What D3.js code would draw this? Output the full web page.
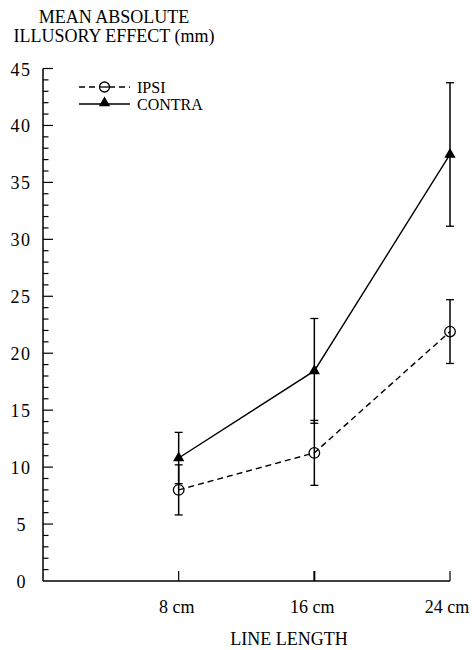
<!DOCTYPE html>
<html>
<head>
<meta charset="utf-8">
<script src="https://cdn.jsdelivr.net/npm/d3@7"></script>
<style>
  body { margin: 0; background: #fff; }
</style>
</head>
<body>
<svg id="chart"></svg>
<script>
const svgWidth = 472, svgHeight = 650;
const serif = "'Liberation Serif', 'Times New Roman', serif";

// data
const lengths = [8, 16, 24];
const lengthLabels = ["8 cm", "16 cm", "24 cm"];
const ipsiMean = [8.0, 11.25, 21.9];
const ipsiErr = [2.2, 2.85, 2.8];
const contraMean = [10.8, 18.45, 37.45];
const contraErr = [2.25, 4.6, 6.3];
const yMajorTicks = [0, 5, 10, 15, 20, 25, 30, 35, 40, 45];

const chart = d3.select("#chart")
    .attr("width", svgWidth)
    .attr("height", svgHeight);

// every text gets the font inline
function label(sel, size) {
  return sel.style("font-family", serif).style("font-size", size + "px").attr("fill", "#000");
}

const xScale = d3.scaleLinear().domain([0, 24]).range([43, 450]);
const yScale = d3.scaleLinear().domain([0, 45]).range([581, 68.5]);

// title
const title = label(chart.append("text").attr("text-anchor", "middle"), 18);
title.append("tspan").attr("x", 114).attr("y", 23).text("MEAN ABSOLUTE");
title.append("tspan").attr("x", 114).attr("y", 42).text("ILLUSORY EFFECT (mm)");

// y axis with minor ticks every 1 unit, drawn inward
const yAxis = chart.append("g");
yAxis.append("line")
    .attr("x1", 43).attr("x2", 43)
    .attr("y1", yScale(0)).attr("y2", yScale(45))
    .attr("stroke", "#000").attr("stroke-width", 1.5);
yAxis.selectAll(".minor")
    .data(d3.range(1, 45).filter(d => d % 5 != 0))
    .enter().append("line")
    .attr("x1", 43).attr("x2", 48.5)
    .attr("y1", d => yScale(d)).attr("y2", d => yScale(d))
    .attr("stroke", "#000").attr("stroke-width", 1.2);
yAxis.selectAll(".major")
    .data(yMajorTicks.slice(1))
    .enter().append("line")
    .attr("x1", 43).attr("x2", 53)
    .attr("y1", d => yScale(d)).attr("y2", d => yScale(d))
    .attr("stroke", "#000").attr("stroke-width", 1.2);
label(yAxis.selectAll("text")
    .data(yMajorTicks)
    .enter().append("text")
    .attr("x", 21).attr("y", d => yScale(d) + 7)
    .attr("text-anchor", "middle")
    .attr("letter-spacing", d => d >= 10 ? 1.5 : 0)
    .text(d => d), 18);

// x axis
const xAxis = chart.append("g");
xAxis.append("line")
    .attr("x1", 43).attr("x2", xScale(24))
    .attr("y1", yScale(0)).attr("y2", yScale(0))
    .attr("stroke", "#000").attr("stroke-width", 1.5);
xAxis.selectAll(".tick")
    .data(lengths)
    .enter().append("line")
    .attr("x1", d => xScale(d)).attr("x2", d => xScale(d))
    .attr("y1", yScale(0)).attr("y2", yScale(0) - 10)
    .attr("stroke", "#000").attr("stroke-width", (d, i) => i == 1 ? 2 : 1.2);
label(xAxis.selectAll("text")
    .data(lengths)
    .enter().append("text")
    .attr("x", (d, i) => xScale(d) - [2, 2, 3][i]).attr("y", 613)
    .attr("text-anchor", "middle")
    .text((d, i) => lengthLabels[i]), 18);
label(chart.append("text")
    .attr("x", 289).attr("y", 645)
    .attr("text-anchor", "middle")
    .text("LINE LENGTH"), 18);

// error bars
function errorBars(means, errs, width) {
  const g = chart.append("g").attr("stroke", "#000");
  lengths.forEach((d, i) => {
    const x = xScale(d), top = yScale(means[i] + errs[i]), bot = yScale(means[i] - errs[i]);
    g.append("line").attr("x1", x).attr("x2", x).attr("y1", top).attr("y2", bot).attr("stroke-width", width);
    g.append("line").attr("x1", x - 4).attr("x2", x + 4).attr("y1", top).attr("y2", top).attr("stroke-width", 1.3);
    g.append("line").attr("x1", x - 4).attr("x2", x + 4).attr("y1", bot).attr("y2", bot).attr("stroke-width", 1.3);
  });
}
errorBars(ipsiMean, ipsiErr, 1.5);
errorBars(contraMean, contraErr, 1.5);

const line = d3.line().x(d => xScale(d[0])).y(d => yScale(d[1]));

// IPSI dashed line with open circles
chart.append("path")
    .datum(lengths.map((d, i) => [d, ipsiMean[i]]))
    .attr("d", line)
    .attr("fill", "none").attr("stroke", "#000")
    .attr("stroke-width", 1.4).attr("stroke-dasharray", "6,4");
chart.selectAll(".ipsi")
    .data(lengths)
    .enter().append("circle")
    .attr("cx", d => xScale(d)).attr("cy", (d, i) => yScale(ipsiMean[i]))
    .attr("r", 5.3)
    .attr("fill", "none").attr("stroke", "#000").attr("stroke-width", 1.3);

// CONTRA solid line with filled triangles
const tri = d3.symbol().type(d3.symbolTriangle).size(55);
chart.append("path")
    .datum(lengths.map((d, i) => [d, contraMean[i]]))
    .attr("d", line)
    .attr("fill", "none").attr("stroke", "#000").attr("stroke-width", 1.4);
chart.selectAll(".contra")
    .data(lengths)
    .enter().append("path")
    .attr("d", tri)
    .attr("transform", (d, i) => "translate(" + xScale(d) + "," + yScale(contraMean[i]) + ")")
    .attr("fill", "#000");

// legend
const legend = chart.append("g");
legend.append("line").attr("x1", 79).attr("x2", 130).attr("y1", 87).attr("y2", 87)
    .attr("stroke", "#000").attr("stroke-width", 1.3).attr("stroke-dasharray", "6,4");
legend.append("circle").attr("cx", 104.5).attr("cy", 87).attr("r", 5)
    .attr("fill", "#fff").attr("stroke", "#000").attr("stroke-width", 1.3);
legend.append("line").attr("x1", 100).attr("x2", 109).attr("y1", 87).attr("y2", 87)
    .attr("stroke", "#000").attr("stroke-width", 1.3);
label(legend.append("text").attr("x", 137).attr("y", 92.5).text("IPSI"), 16);
legend.append("line").attr("x1", 79).attr("x2", 130).attr("y1", 104).attr("y2", 104)
    .attr("stroke", "#000").attr("stroke-width", 1.3);
legend.append("path").attr("d", tri).attr("transform", "translate(104.5,103)").attr("fill", "#000");
label(legend.append("text").attr("x", 137).attr("y", 110).text("CONTRA"), 16);
</script>
</body>
</html>
